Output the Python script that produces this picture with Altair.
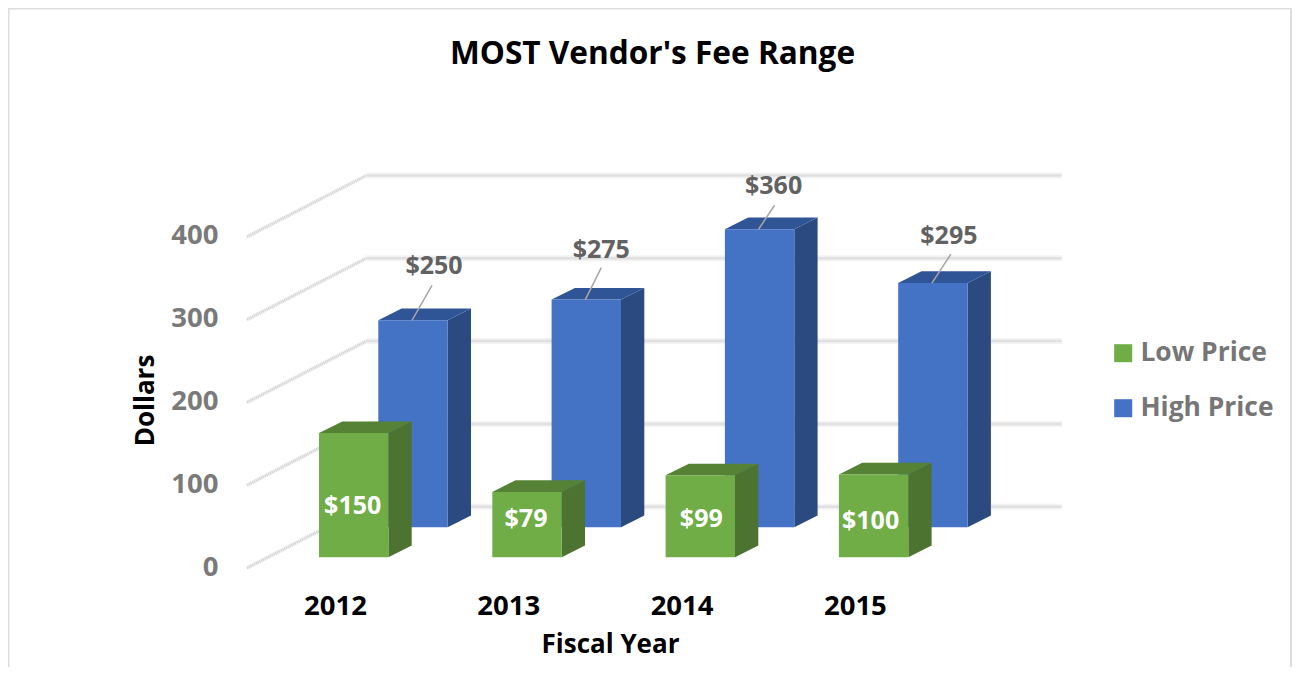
import altair as alt
import pandas as pd

# ---- values
years = [2012, 2013, 2014, 2015]
low_price = [150, 79, 99, 100]
high_price = [250, 275, 360, 295]
y_ticks = [0, 100, 200, 300, 400]

# ---- drawing set-up (pixels in the reference, turned into scale units below)
W, H = 1284, 659
PX_PER_YEAR = 173.3
PX_PER_DOLLAR = 0.828
FONT = "Open Sans"


def yrs(px):
    return px / PX_PER_YEAR


def usd(px):
    return px / PX_PER_DOLLAR


x_scale = alt.Scale(domain=[2012 - yrs(345.7), 2012 + yrs(W - 345.7)], nice=False, zero=False)
y_scale = alt.Scale(domain=[usd(568 - 8 - H), usd(568 - 8)], nice=False, zero=False)

BAR_W = yrs(69.4)
DEPTH_X = yrs(23.3)
DEPTH_Y = usd(11.7)
LOW_BASE = usd(568 - 557.3)
HIGH_BASE = usd(568 - 527.3)
HIGH_SHIFT = yrs(59.3)
WALL_DEPTH_Y = usd(61.3)
WALL_LEFT = 2012 - yrs(106.7)
WALL_BACK = 2012 + yrs(12.6)
WALL_RIGHT = 2012 + yrs(708)

axis_common = dict(
    domain=False, ticks=False, grid=False, tickSize=0, labelPadding=0,
    labelFont=FONT, labelFontSize=27.5, labelFontWeight="bold",
    titleFont=FONT, titleFontSize=26, titleFontWeight="bold", titleColor="#000000",
)
x_axis = alt.Axis(values=years, format="d", offset=-61, labelOffset=-18.7,
                  labelBaseline="middle", labelColor="#000000",
                  titleX=602, titleY=38, titleBaseline="middle", **axis_common)
y_axis = alt.Axis(values=y_ticks, format="d", offset=-210, labelOffset=-1,
                  labelColor="#7A7A7A", labelAlign="right",
                  titleX=-73, titleY=392, titleBaseline="middle", **axis_common)


def X(field):
    return alt.X(field, type="quantitative", scale=x_scale, title="Fiscal Year", axis=x_axis)


def Y(field):
    return alt.Y(field, type="quantitative", scale=y_scale, title="Dollars", axis=y_axis)


def faces(values, base, shift, series):
    front, side, top = [], [], []
    for yr, v in zip(years, values):
        x0 = yr - BAR_W / 2 + shift
        x1 = x0 + BAR_W
        t = base + v
        front.append(dict(series=series, x0=x0, x1=x1, y0=base, y1=t))
        side.append(dict(k=yr, x=x1, y=t, y2=base))
        side.append(dict(k=yr, x=x1 + DEPTH_X, y=t + DEPTH_Y, y2=base + DEPTH_Y))
        top.append(dict(k=yr, y=t, x=x0, x2=x1))
        top.append(dict(k=yr, y=t + DEPTH_Y, x=x0 + DEPTH_X, x2=x1 + DEPTH_X))
    return pd.DataFrame(front), pd.DataFrame(side), pd.DataFrame(top)


def box(values, base, shift, series, side_color, top_color):
    f, s, t = faces(values, base, shift, series)
    side = alt.Chart(s).mark_area(color=side_color, interpolate="linear").encode(
        x=X("x"), y=Y("y"), y2=alt.Y2("y2"), detail="k:N")
    top = alt.Chart(t).mark_area(color=top_color, orient="horizontal", interpolate="linear").encode(
        y=Y("y"), x=X("x"), x2=alt.X2("x2"), detail="k:N")
    front = alt.Chart(f).mark_rect().encode(
        x=X("x0"), x2=alt.X2("x1"), y=Y("y0"), y2=alt.Y2("y1"),
        color=alt.Color(
            "series:N",
            scale=alt.Scale(domain=["Low Price", "High Price"], range=["#70AD47", "#4472C4"]),
            sort=["Low Price", "High Price"],
            legend=alt.Legend(
                orient="none", legendX=1102, legendY=332, title=None,
                symbolType="square", symbolSize=324, symbolStrokeWidth=0,
                labelFont=FONT, labelFontSize=26.4, labelFontWeight="bold",
                labelColor="#767676", labelOffset=4, rowPadding=28,
            ),
        ),
    )
    return [side, top, front]


# ---- walls
back = pd.DataFrame([dict(k=v, x=WALL_BACK, x2=WALL_RIGHT, y=v + WALL_DEPTH_Y) for v in y_ticks])
left = pd.DataFrame(
    [dict(k=v, x=WALL_LEFT, y=v) for v in y_ticks]
    + [dict(k=v, x=WALL_BACK, y=v + WALL_DEPTH_Y) for v in y_ticks]
)

back_halo = alt.Chart(back).mark_rule(color="#F3F3F3", strokeWidth=6).encode(
    x=X("x"), x2=alt.X2("x2"), y=Y("y"))
back_line = alt.Chart(back).mark_rule(color="#E0E0E0", strokeWidth=2.5).encode(
    x=X("x"), x2=alt.X2("x2"), y=Y("y"))
left_halo = alt.Chart(left).mark_line(color="#F1F1F1", strokeWidth=4).encode(
    x=X("x"), y=Y("y"), detail="k:N")
left_line = alt.Chart(left).mark_line(color="#CFCFCF", strokeWidth=2.5, strokeDash=[1, 1]).encode(
    x=X("x"), y=Y("y"), detail="k:N")

# ---- labels and leaders
high_center = [yr + HIGH_SHIFT for yr in years]
label_dx = [21, 15, 14, 16]
label_up = [54, 50, 43, 47]
leader_dx = [20, 16, 16, 19]
leader_up = [35, 32, 24, 29]
high_labels = pd.DataFrame(dict(
    x=[c + yrs(d) for c, d in zip(high_center, label_dx)],
    y=[HIGH_BASE + v + usd(u) for v, u in zip(high_price, label_up)],
    t=["$" + str(v) for v in high_price],
))
leaders = pd.DataFrame(dict(
    x=[c - yrs(1) for c in high_center],
    x2=[c + yrs(d - 1) for c, d in zip(high_center, leader_dx)],
    y=[HIGH_BASE + v for v in high_price],
    y2=[HIGH_BASE + v + usd(u) for v, u in zip(high_price, leader_up)],
))
low_dx = [-1, -1, 1, -3]
low_label_y = [506, 519, 519, 521]
low_labels = pd.DataFrame(dict(
    x=[yr + yrs(d) for yr, d in zip(years, low_dx)],
    y=[usd(568 - p) for p in low_label_y],
    t=["$" + str(v) for v in low_price],
))

leader_layer = alt.Chart(leaders).mark_rule(color="#A6A6A6", strokeWidth=1.5).encode(
    x=X("x"), x2=alt.X2("x2"), y=Y("y"), y2=alt.Y2("y2"))
high_text = alt.Chart(high_labels).mark_text(
    font=FONT, fontSize=25, fontWeight="bold", color="#626262", baseline="middle"
).encode(x=X("x"), y=Y("y"), text="t:N")
low_text = alt.Chart(low_labels).mark_text(
    font=FONT, fontSize=25, fontWeight="bold", color="#FFFFFF", baseline="middle"
).encode(x=X("x"), y=Y("y"), text="t:N")

# ---- card outline
border = "#DDDDDD"
edge_left = alt.Chart(pd.DataFrame(dict(a=[0]))).mark_rule(color=border, strokeWidth=2).encode(
    x=alt.value(0.5), y=alt.value(0), y2=alt.value(H))
edge_right = alt.Chart(pd.DataFrame(dict(a=[0]))).mark_rule(color=border, strokeWidth=2).encode(
    x=alt.value(W - 1), y=alt.value(0), y2=alt.value(H))
edge_top = alt.Chart(pd.DataFrame(dict(a=[0]))).mark_rule(color=border, strokeWidth=2).encode(
    y=alt.value(0.5), x=alt.value(0), x2=alt.value(W))

layers = [back_halo, edge_left, edge_right, edge_top, back_line, left_halo, left_line]
layers += box(high_price, HIGH_BASE, HIGH_SHIFT, "High Price", "#2A4A80", "#2F5597")
layers += [leader_layer]
layers += box(low_price, LOW_BASE, 0, "Low Price", "#4C7330", "#558235")
layers += [high_text, low_text]

chart = alt.layer(*layers).properties(
    width=W, height=H,
    autosize=alt.AutoSizeParams(type="none"),
    padding=0,
    background="#FFFFFF",
    title=alt.TitleParams(
        text="MOST Vendor's Fee Range", anchor="start", dx=443, dy=68,
        font=FONT, fontSize=31.6, fontWeight="bold", color="#000000",
    ),
).configure_view(stroke=None)

chart.save("out.html", embed_options={"renderer": "svg", "actions": False})
